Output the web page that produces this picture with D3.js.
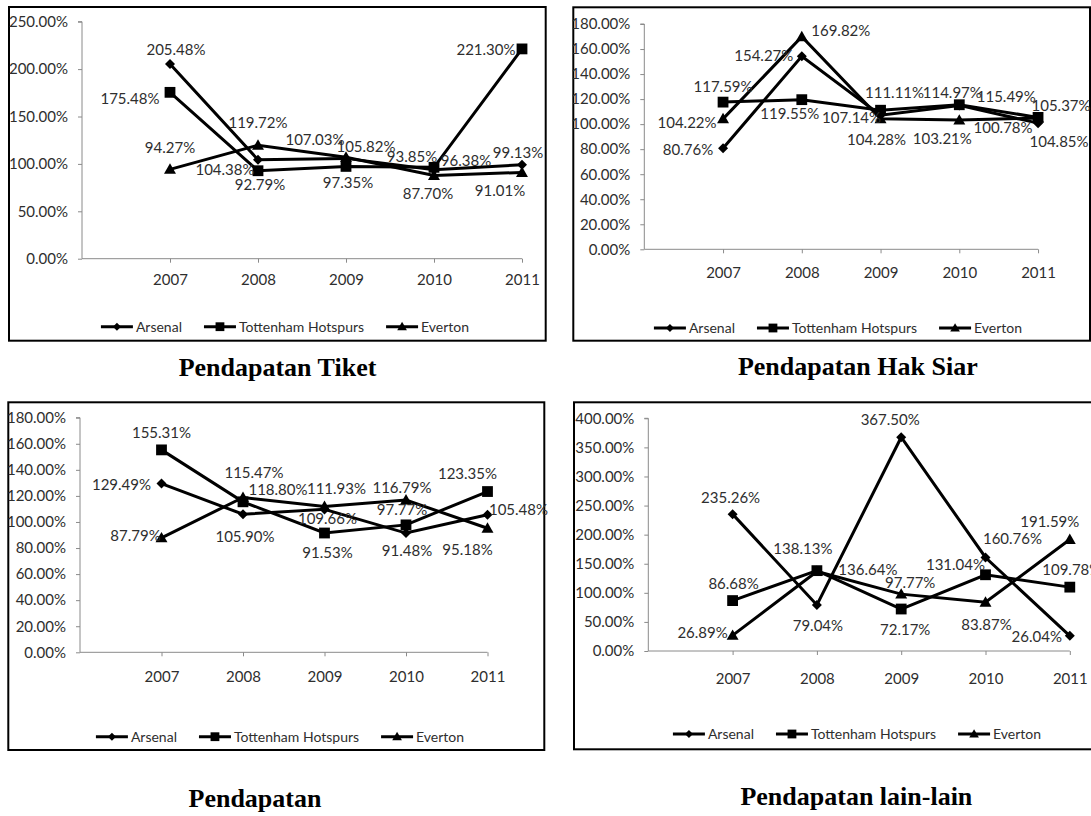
<!DOCTYPE html>
<html>
<head>
<meta charset="utf-8">
<script src="https://cdn.jsdelivr.net/npm/d3@7/dist/d3.min.js"></script>
<style>
  html, body { margin: 0; padding: 0; background: #fff; }
  svg { display: block; }
</style>
</head>
<body>
<svg id="chart" width="1091" height="816"></svg>
<script>
// ---------------- DATA ----------------
const years = ["2007", "2008", "2009", "2010", "2011"];
const teams = ["Arsenal", "Tottenham Hotspurs", "Everton"];

// Pendapatan Tiket
const tiketArsenal   = [205.48, 104.38, 105.82, 93.85, 99.13];
const tiketTottenham = [175.48, 92.79, 97.35, 96.38, 221.30];
const tiketEverton   = [94.27, 119.72, 107.03, 87.70, 91.01];
const tiketTicks     = [0, 50, 100, 150, 200, 250];

// Pendapatan Hak Siar
const siarArsenal   = [80.76, 154.27, 107.14, 114.97, 100.78];
const siarTottenham = [117.59, 119.55, 111.11, 115.49, 105.37];
const siarEverton   = [104.22, 169.82, 104.28, 103.21, 104.85];
const siarTicks     = [0, 20, 40, 60, 80, 100, 120, 140, 160, 180];

// Pendapatan
const totalArsenal   = [129.49, 105.90, 109.66, 91.48, 105.48];
const totalTottenham = [155.31, 115.47, 91.53, 97.77, 123.35];
const totalEverton   = [87.79, 118.80, 111.93, 116.79, 95.18];
const totalTicks     = [0, 20, 40, 60, 80, 100, 120, 140, 160, 180];

// Pendapatan lain-lain
const lainArsenal   = [235.26, 79.04, 367.50, 160.76, 26.04];
const lainTottenham = [86.68, 138.13, 72.17, 131.04, 109.78];
const lainEverton   = [26.89, 136.64, 97.77, 83.87, 191.59];
const lainTicks     = [0, 50, 100, 150, 200, 250, 300, 350, 400];

const titles = ["Pendapatan Tiket", "Pendapatan Hak Siar", "Pendapatan", "Pendapatan lain-lain"];

// ---------------- LAYOUT (label shifts relative to point, per series) ----------------
const tiketLabelShift = [
  [[6,-14],[-33,10],[20,-12],[-22,-13],[-4,-12]],
  [[-40,6],[2,14],[2,16],[32,-7],[-36,1]],
  [[0,-22],[0,-22],[-31,-17],[-6,18],[-22,18]]
];
const siarLabelShift = [
  [[-35,2],[-38,0],[-29,3],[-7,-13],[-35,5]],
  [[0,-15],[-12,14],[14,-17],[47,-8],[23,-12]],
  [[-36,4],[39,-6],[-4,21],[-17,19],[21,24]]
];
const totalLabelShift = [
  [[-40,1],[2,22],[3,9],[1,18],[31,-5]],
  [[0,-17],[11,-29],[3,20],[-4,-15],[-20,-18]],
  [[-26,-2],[35,-8],[12,-18],[-4,-12],[-20,22]]
];
const lainLabelShift = [
  [[-2,-16],[1,21],[-11,-17],[27,-19],[-33,1]],
  [[1,-17],[-14,-22],[4,21],[-30,-10],[2,-17]],
  [[-30,-3],[51,-2],[9,-11],[1,23],[-20,-18]]
];

const layouts = [
  {frame:[9,7,545.7,340.7],   ax:82,    y0:258.7, yTop:21.7,  xStep:88,    xLabDy:26, legCx:285, legY:326.7, titleX:277.5, titleY:376},
  {frame:[573.3,7.3,1090,340.7], ax:644.3, y0:249.3, yTop:24,  xStep:78.75, xLabDy:28, legCx:838, legY:328,   titleX:857.8, titleY:375},
  {frame:[8.3,402.3,544.3,750], ax:80,    y0:652.3, yTop:417.7, xStep:81.5,  xLabDy:29, legCx:280, legY:736.7, titleX:255,   titleY:807},
  {frame:[574,402.3,1110,749.3], ax:648.3, y0:651,   yTop:418.3, xStep:84.3,  xLabDy:32, legCx:857, legY:734,   titleX:856.4, titleY:805}
];

const charts = [
  {series:[tiketArsenal, tiketTottenham, tiketEverton], ticks:tiketTicks, shift:tiketLabelShift},
  {series:[siarArsenal, siarTottenham, siarEverton], ticks:siarTicks, shift:siarLabelShift},
  {series:[totalArsenal, totalTottenham, totalEverton], ticks:totalTicks, shift:totalLabelShift},
  {series:[lainArsenal, lainTottenham, lainEverton], ticks:lainTicks, shift:lainLabelShift}
];

// ---------------- DRAWING ----------------
const svg = d3.select("#chart");
const FONT = "Lato, 'Open Sans', sans-serif";
const NUM_SIZE = "15px";
const LEG_SIZE = "14px";
const TEXT_COL = "#2e2e2e";
const AXIS_COL = "#8a8a8a";
const fmt = d3.format(".2f");

function markerPath(kind, s) {
  if (kind === 0) { // diamond
    const r = s;
    return `M0,${-r}L${r},0L0,${r}L${-r},0Z`;
  } else if (kind === 1) { // square
    const r = s;
    return `M${-r},${-r}H${r}V${r}H${-r}Z`;
  } else { // triangle
    const r = s * 1.15;
    return `M0,${-r}L${r},${r*0.75}L${-r},${r*0.75}Z`;
  }
}
const plotMarkerSize = [5, 5.4, 5.2];
const legendMarkerSize = [4, 4.4, 4.2];

charts.forEach((c, ci) => {
  const L = layouts[ci];
  const g = svg.append("g");
  const [fx0, fy0, fx1, fy1] = L.frame;

  // frame
  g.append("rect")
    .attr("x", fx0).attr("y", fy0)
    .attr("width", fx1 - fx0).attr("height", fy1 - fy0)
    .attr("fill", "#fff").attr("stroke", "#000").attr("stroke-width", 2);

  const yMax = d3.max(c.ticks);
  const y = d3.scaleLinear().domain([0, yMax]).range([L.y0, L.yTop]);
  const x = d3.scaleLinear().domain([0, years.length]).range([L.ax, L.ax + years.length * L.xStep]);

  // y axis
  const yAxis = d3.axisLeft(y).tickValues(c.ticks).tickSize(4).tickPadding(10)
    .tickFormat(d => fmt(d) + "%");
  const ya = g.append("g").attr("transform", `translate(${L.ax},0)`).call(yAxis);
  ya.select(".domain").attr("stroke", AXIS_COL).attr("d", `M-4,${L.yTop}H0V${L.y0}`);
  ya.selectAll(".tick line").attr("stroke", AXIS_COL);
  ya.selectAll(".tick text").attr("fill", TEXT_COL).style("font-family", FONT).style("font-size", NUM_SIZE);

  // x axis
  const xAxis = d3.axisBottom(x).tickValues(d3.range(1, years.length + 1)).tickSize(4)
    .tickFormat(d => years[d - 1]).tickPadding(L.xLabDy - 14);
  const xa = g.append("g").attr("transform", `translate(0,${L.y0})`).call(xAxis);
  xa.select(".domain").attr("stroke", AXIS_COL).attr("d", `M${L.ax},0H${x(years.length)}`);
  xa.selectAll(".tick line").attr("stroke", AXIS_COL);
  xa.selectAll(".tick text").attr("fill", TEXT_COL).style("font-family", FONT).style("font-size", NUM_SIZE);

  // series lines
  const line = d3.line().x((d, i) => x(i + 1)).y(d => y(d));
  c.series.forEach((vals, si) => {
    g.append("path").datum(vals)
      .attr("d", line).attr("fill", "none")
      .attr("stroke", "#000").attr("stroke-width", 3).attr("stroke-linejoin", "miter");
    g.selectAll(null).data(vals).enter().append("path")
      .attr("d", markerPath(si, plotMarkerSize[si]))
      .attr("transform", (d, i) => `translate(${x(i + 1)},${y(d)})`)
      .attr("fill", "#000");
  });

  // data labels
  c.series.forEach((vals, si) => {
    g.selectAll(null).data(vals).enter().append("text")
      .attr("x", (d, i) => x(i + 1) + c.shift[si][i][0])
      .attr("y", (d, i) => y(d) + c.shift[si][i][1])
      .attr("dy", "0.35em")
      .attr("text-anchor", "middle")
      .attr("fill", TEXT_COL)
      .style("font-family", FONT).style("font-size", NUM_SIZE)
      .text(d => fmt(d) + "%");
  });

  // legend
  const lg = g.append("g");
  const items = [];
  teams.forEach((t, si) => {
    const it = lg.append("g");
    it.append("line").attr("x1", 0).attr("x2", 32).attr("y1", 0).attr("y2", 0)
      .attr("stroke", "#000").attr("stroke-width", 3);
    it.append("path").attr("d", markerPath(si, legendMarkerSize[si]))
      .attr("transform", "translate(16,0)").attr("fill", "#000");
    const tx = it.append("text").attr("x", 35).attr("dy", "0.35em")
      .attr("fill", TEXT_COL).style("font-family", FONT).style("font-size", LEG_SIZE).text(t);
    const w = 35 + tx.node().getComputedTextLength();
    items.push({it, w});
  });
  const gap = 22;
  const total = d3.sum(items, d => d.w) + gap * (items.length - 1);
  let pos = L.legCx - total / 2;
  items.forEach(d => {
    d.it.attr("transform", `translate(${pos},${L.legY})`);
    pos += d.w + gap;
  });

  // title
  svg.append("text")
    .attr("x", L.titleX).attr("y", L.titleY)
    .attr("text-anchor", "middle")
    .style("font-family", "'Liberation Serif', 'Times New Roman', serif")
    .style("font-weight", "bold").style("font-size", "26px")
    .attr("fill", "#000")
    .text(titles[ci]);
});
</script>
</body>
</html>
